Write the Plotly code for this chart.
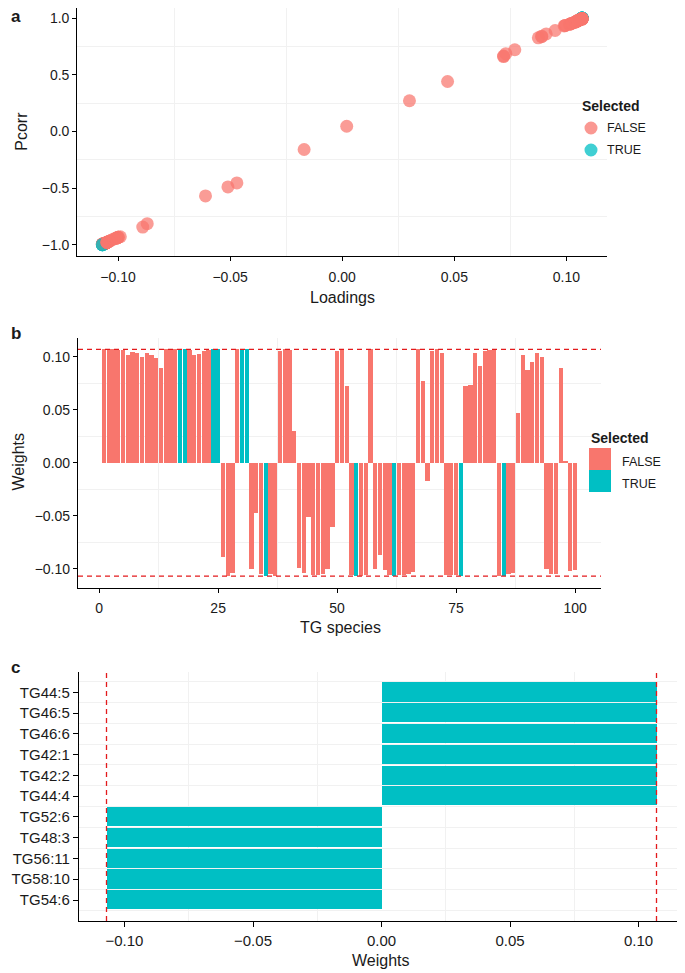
import plotly.graph_objects as go

# The page body has an 8px default margin, so the figure is drawn 8px in
# from the window's top-left corner; size and positions compensate for it.
OFF = 8
W, H = 685 - OFF, 973 - OFF


def px(x):
    return (x - OFF) / W


def py(y):
    return min(1.0, 1 - (y - OFF) / H)


# ---------------- data ----------------
species = list(range(1, 101))
weights = [
    0.107, 0.107, 0.107, 0.106, 0.106, 0.102, 0.1045, 0.104, 0.0995, 0.104,
    0.102, 0.099, 0.089, 0.107, 0.107, 0.107, 0.107, 0.107, 0.106, 0.1015,
    0.1025, 0.105, 0.106, 0.107, 0.107, -0.089, -0.107, -0.104, 0.107, 0.107,
    0.107, -0.1005, -0.047, -0.105, -0.107, -0.105, -0.107, 0.105, 0.107, 0.106,
    0.030, -0.099, -0.104, -0.051, -0.106, -0.106, -0.105, -0.100, -0.061, 0.105,
    0.107, 0.072, -0.106, -0.107, -0.107, -0.106, 0.107, -0.100, -0.087, -0.101,
    -0.106, -0.107, -0.106, -0.106, -0.105, -0.103, 0.107, 0.077, -0.017, 0.105,
    0.107, 0.104, -0.106, -0.106, -0.106, -0.107, 0.072, 0.073, 0.104, 0.091,
    0.105, 0.106, 0.107, -0.107, -0.107, -0.105, -0.104, 0.047, 0.1015, 0.0875,
    0.095, 0.104, 0.0995, -0.100, -0.105, -0.105, 0.089, 0.002, -0.102, -0.101,
]
pcorr = [
    0.995, 0.995, 0.99, 0.985, 0.985, 0.95, 0.97, 0.965, 0.935, 0.965,
    0.95, 0.93, 0.835, 0.995, 0.99, 0.995, 1.0, 1.0, 0.985, 0.945,
    0.955, 0.975, 0.985, 1.0, 1.0, -0.845, -0.995, -0.97, 0.995, 1.0,
    1.0, -0.94, -0.455, -0.98, -1.0, -0.98, -0.995, 0.975, 0.995, 0.985,
    0.27, -0.93, -0.97, -0.49, -0.99, -0.99, -0.98, -0.935, -0.57, 0.975,
    0.995, 0.665, -0.99, -1.0, -0.995, -0.99, 0.995, -0.935, -0.815, -0.945,
    -0.99, -1.0, -0.99, -0.99, -0.98, -0.96, 0.995, 0.72, -0.16, 0.975,
    0.995, 0.965, -0.99, -0.99, -0.99, -1.0, 0.66, 0.685, 0.965, 0.86,
    0.975, 0.985, 0.995, -0.995, -1.0, -0.98, -0.97, 0.44, 0.945, 0.825,
    0.89, 0.965, 0.935, -0.935, -0.98, -0.98, 0.84, 0.045, -0.95, -0.945,
]
selected_species = [17, 18, 24, 25, 30, 31, 35, 54, 62, 76, 85]
selected = [s in selected_species for s in species]
cutoff = 0.107

c_labels = ["TG44:5", "TG46:5", "TG46:6", "TG42:1", "TG42:2", "TG44:4",
            "TG52:6", "TG48:3", "TG56:11", "TG58:10", "TG54:6"]
c_weights = [0.107, 0.107, 0.107, 0.107, 0.107, 0.107,
             -0.107, -0.107, -0.107, -0.107, -0.107]
c_pos = list(range(len(c_labels)))

legend_labels = ["FALSE", "TRUE"]

# ---------------- style ----------------
RED = "#F8766D"
TEAL = "#00BFC4"
DASH = "#E31A1C"
GRID = "#F1F1F1"
FONT = "Liberation Sans, Arial, sans-serif"
TXT = "#1a1a1a"
colors = [TEAL if s else RED for s in selected]

fig = go.Figure()

# panel a: scatter (single trace keeps data drawing order)
fig.add_trace(go.Scatter(
    x=weights, y=pcorr, mode="markers", xaxis="x", yaxis="y",
    marker=dict(size=13, color=colors, opacity=0.72, line=dict(width=0)),
    showlegend=False, hoverinfo="skip"))

# panel b: bars
fig.add_trace(go.Bar(
    x=species, y=weights, xaxis="x2", yaxis="y2", width=0.9,
    marker=dict(color=colors, line=dict(width=0)), showlegend=False))

# panel c: horizontal bars
fig.add_trace(go.Bar(
    x=c_weights, y=c_pos, orientation="h", xaxis="x3", yaxis="y3", width=0.92,
    marker=dict(color=TEAL, line=dict(width=0)), showlegend=False))


def axis_common(**kw):
    d = dict(showline=True, linecolor="black", linewidth=1.2, ticks="outside",
             ticklen=4, tickwidth=1, tickcolor="black", showgrid=False,
             zeroline=False, tickfont=dict(family=FONT, size=14, color=TXT))
    d.update(kw)
    return d


def minor(t0, dt):
    return dict(tickmode="linear", tick0=t0, dtick=dt, showgrid=True,
                gridcolor=GRID, gridwidth=1, ticks="")


fig.update_layout(
    width=W, height=H, margin=dict(l=0, r=0, t=0, b=0),
    paper_bgcolor="white", plot_bgcolor="white", bargap=0,
    font=dict(family=FONT, color=TXT),
    xaxis=axis_common(domain=[px(77.3), px(606.7)], range=[-0.1182, 0.118],
                      tickvals=[-0.10, -0.05, 0.00, 0.05, 0.10], tickformat=".2f",
                      ticklabelstandoff=4, minor=minor(0.025, 0.05), anchor="y"),
    yaxis=axis_common(domain=[py(256), py(8)], range=[-1.1, 1.0885],
                      tickvals=[-1.0, -0.5, 0.0, 0.5, 1.0], tickformat=".1f",
                      minor=minor(0.25, 0.5), anchor="x"),
    xaxis2=axis_common(domain=[px(78), px(601)], range=[-4.445, 105.445],
                       tickvals=[0, 25, 50, 75, 100], ticklabelstandoff=4,
                       minor=minor(12.5, 25), anchor="y2"),
    yaxis2=axis_common(domain=[py(587.5), py(338)], range=[-0.1177, 0.1177],
                       tickvals=[-0.10, -0.05, 0.00, 0.05, 0.10], tickformat=".2f",
                       minor=minor(0.025, 0.05), anchor="x2"),
    xaxis3=axis_common(domain=[px(79), px(684)], range=[-0.1177, 0.1177],
                       tickvals=[-0.10, -0.05, 0.00, 0.05, 0.10], tickformat=".2f",
                       ticklen=5, ticklabelstandoff=1,
                       tickfont=dict(family=FONT, size=15, color=TXT),
                       minor=minor(0.025, 0.05), anchor="y3"),
    yaxis3=axis_common(domain=[py(921), py(672.3)], range=[11.01, -0.96],
                       tickvals=c_pos, ticktext=c_labels, ticklen=5,
                       tickfont=dict(family=FONT, size=15, color=TXT),
                       minor=minor(0.5, 1), anchor="x3"),
)

# cutoff lines
dash_line = dict(color=DASH, width=1.3, dash="5px,4px")
for v in (cutoff, -cutoff):
    fig.add_shape(type="line", xref="x2 domain", yref="y2", x0=0, x1=1, y0=v, y1=v,
                  line=dash_line, layer="above")
    fig.add_shape(type="line", xref="x3", yref="y3 domain", x0=v, x1=v, y0=0, y1=1,
                  line=dash_line, layer="above")

# manual legends
ann = []


def text(x, y, s, size=14, bold=False, angle=0, xanchor="center"):
    ann.append(dict(x=px(x), y=py(y), xref="paper", yref="paper",
                    text=f"<b>{s}</b>" if bold else s,
                    showarrow=False, textangle=angle, xanchor=xanchor, yanchor="middle",
                    font=dict(family=FONT, size=size, color=TXT)))


# legend a
text(580, 106.5, "Selected", size=14, bold=True, xanchor="left")
for i, (lab, col) in enumerate(zip(legend_labels, [RED, TEAL])):
    cy = 128 + 22 * i
    fig.add_shape(type="circle", xref="paper", yref="paper",
                  x0=px(591 - 6.5), x1=px(591 + 6.5), y0=py(cy + 6.5), y1=py(cy - 6.5),
                  fillcolor=col, opacity=0.75, line=dict(width=0))
    text(605, cy, lab, size=12.5, xanchor="left")

# legend b
text(589, 438, "Selected", size=14, bold=True, xanchor="left")
for i, (lab, col) in enumerate(zip(legend_labels, [RED, TEAL])):
    y0 = 448 + 22 * i
    fig.add_shape(type="rect", xref="paper", yref="paper",
                  x0=px(589), x1=px(611), y0=py(y0 + 22), y1=py(y0),
                  fillcolor=col, line=dict(width=0))
    text(620, y0 + 14, lab, size=12.5, xanchor="left")

# axis titles
text(22, 131.7, "Pcorr", size=16, angle=-90)
text(342, 297, "Loadings", size=16)
text(17.5, 462, "Weights", size=16, angle=-90)
text(340, 627, "TG species", size=16)
text(381, 960, "Weights", size=16)

# panel letters
text(9, 17, "a", size=17, bold=True, xanchor="left")
text(9, 333, "b", size=17, bold=True, xanchor="left")
text(9, 667, "c", size=17, bold=True, xanchor="left")

fig.update_layout(annotations=ann)
fig.write_html("out.html")
